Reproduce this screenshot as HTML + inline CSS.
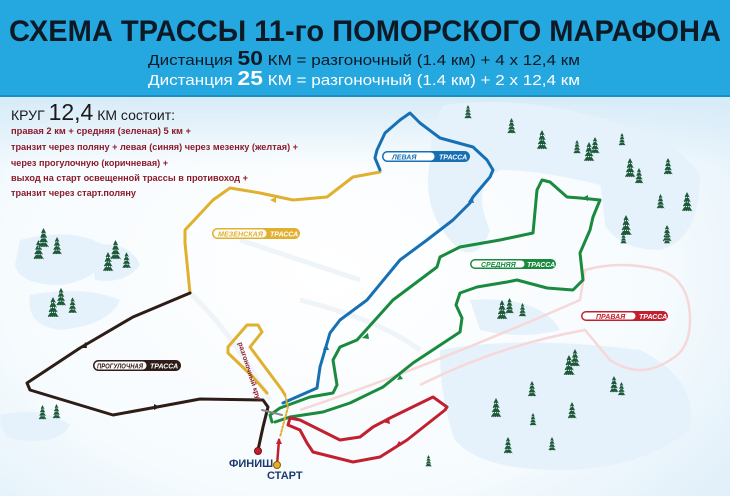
<!DOCTYPE html>
<html><head><meta charset="utf-8"><style>
html,body{margin:0;padding:0;width:730px;height:496px;overflow:hidden;background:#fff}
svg{display:block}
text{font-family:"Liberation Sans",sans-serif}
</style></head><body>
<svg width="730" height="496" viewBox="0 0 730 496" xmlns="http://www.w3.org/2000/svg">
<defs>
<radialGradient id="bg" cx="0.45" cy="0.55" r="0.75">
<stop offset="0" stop-color="#ffffff"/><stop offset="0.6" stop-color="#f6fbfe"/><stop offset="1" stop-color="#dcedf8"/>
</radialGradient>
<linearGradient id="topfade" x1="0" y1="0" x2="0" y2="1">
<stop offset="0" stop-color="#d6ebf8"/><stop offset="1" stop-color="#d6ebf8" stop-opacity="0"/>
</linearGradient>
<symbol id="t" viewBox="0 0 12 22">
<polygon points="6,0 9,6 3,6" fill="#1d5a3c"/>
<polygon points="6,3 10,11 2,11" fill="#1d5a3c"/>
<polygon points="6,8 11,16 1,16" fill="#1d5a3c"/>
<polygon points="6,12 12,21 0,21" fill="#1d5a3c"/>
<path d="M3,6h6M2,11h8M1,16h10M0,21h12" stroke="#fff" stroke-width="1.2" stroke-dasharray="1 1"/>
</symbol>
</defs>
<rect width="730" height="496" fill="url(#bg)"/>
<rect y="96" width="730" height="70" fill="url(#topfade)"/>
<g fill="#e6f2fb">
<path d="M445,105 Q520,95 600,118 Q650,130 660,175 Q650,195 600,185 Q540,170 500,170 Q470,185 490,230 Q480,260 460,250 Q420,215 430,160 Q430,120 445,105Z"/>
<path d="M590,125 Q660,120 700,175 Q700,240 660,250 Q620,250 605,225 Q600,170 590,125Z"/>
<path d="M20,240 Q80,225 110,250 Q100,280 60,285 Q20,285 15,265Z"/>
<path d="M90,245 Q130,240 140,265 Q125,285 95,280Z"/>
<path d="M30,295 Q85,285 120,300 Q110,325 60,330 Q25,325 30,295Z"/>
<path d="M470,300 Q540,295 560,330 Q520,340 480,330Z"/>
<path d="M440,350 Q520,335 640,350 Q700,380 690,430 Q640,470 560,470 Q480,470 455,440 Q440,400 440,350Z"/>
<path d="M0,415 Q40,405 70,425 Q60,445 20,440 Q0,440 0,415Z"/>
</g>
<g fill="none" stroke="#eef4f8" stroke-width="5">
<path d="M190,293 Q230,330 270,400"/><path d="M300,300 Q380,320 420,350"/><path d="M240,240 Q300,260 360,280"/>
</g>
<path d="M300,410 Q420,370 580,300 L585,270 Q620,260 660,270 Q690,280 690,320 Q690,350 670,360 Q640,380 610,360 L585,330 Q500,345 420,385" fill="none" stroke="#f6d8d8" stroke-width="2.5"/>
<rect width="730" height="95" fill="#25a8e0"/>
<rect y="95" width="730" height="2" fill="#1b8ec4"/>
<text x="365" y="41" text-anchor="middle" font-size="30" font-weight="bold" fill="#0d1a26" textLength="712" lengthAdjust="spacingAndGlyphs">СХЕМА ТРАССЫ 11-го ПОМОРСКОГО МАРАФОНА</text>
<text x="148" y="65" font-size="15" fill="#0d1a26" textLength="432" lengthAdjust="spacingAndGlyphs">Дистанция <tspan font-size="20" font-weight="bold">50</tspan> КМ = разгоночный (1.4 км) + 4 x 12,4 км</text>
<text x="148" y="85" font-size="15" fill="#fff" textLength="432" lengthAdjust="spacingAndGlyphs">Дистанция <tspan font-size="20" font-weight="bold">25</tspan> КМ = разгоночный (1.4 км) + 2 x 12,4 км</text>
<text x="11" y="120" font-size="14" fill="#1a1a1a">КРУГ <tspan font-size="23">12,4</tspan> КМ состоит:</text>
<g font-size="9.5" font-weight="bold" fill="#8b1a2a">
<text x="11" y="134" textLength="180" lengthAdjust="spacingAndGlyphs">правая 2 км + средняя (зеленая) 5 км +</text>
<text x="11" y="150" textLength="287" lengthAdjust="spacingAndGlyphs">транзит через поляну + левая (синяя) через мезенку (желтая) +</text>
<text x="11" y="166" textLength="157" lengthAdjust="spacingAndGlyphs">через прогулочную (коричневая) +</text>
<text x="11" y="181" textLength="237" lengthAdjust="spacingAndGlyphs">выход на старт освещенной трассы в противоход +</text>
<text x="11" y="196" textLength="125" lengthAdjust="spacingAndGlyphs">транзит через старт.поляну</text>
</g>
<g>
<use href="#t" x="33" y="240" width="11" height="20"/><use href="#t" x="38" y="228" width="11" height="20"/><use href="#t" x="52" y="237" width="10" height="18"/>
<use href="#t" x="102" y="252" width="12" height="20"/><use href="#t" x="110" y="240" width="11" height="20"/><use href="#t" x="122" y="252" width="9" height="17"/>
<use href="#t" x="47" y="297" width="12" height="21"/><use href="#t" x="56" y="287" width="10" height="20"/><use href="#t" x="68" y="297" width="9" height="17"/>
<use href="#t" x="38" y="405" width="9" height="15"/><use href="#t" x="52" y="404" width="9" height="15"/>
<use href="#t" x="464" y="105" width="8" height="14"/><use href="#t" x="507" y="118" width="9" height="16"/><use href="#t" x="536" y="130" width="12" height="20"/>
<use href="#t" x="573" y="140" width="8" height="14"/><use href="#t" x="583" y="142" width="12" height="20"/><use href="#t" x="590" y="137" width="10" height="17"/>
<use href="#t" x="618" y="133" width="8" height="13"/><use href="#t" x="624" y="158" width="12" height="20"/><use href="#t" x="634" y="168" width="10" height="16"/>
<use href="#t" x="663" y="158" width="10" height="17"/><use href="#t" x="656" y="194" width="9" height="15"/><use href="#t" x="681" y="192" width="12" height="20"/>
<use href="#t" x="620" y="215" width="12" height="21"/><use href="#t" x="662" y="225" width="10" height="17"/>
<use href="#t" x="618" y="232" width="11" height="12"/><use href="#t" x="662" y="232" width="10" height="12"/>
<use href="#t" x="496" y="300" width="12" height="20"/><use href="#t" x="505" y="298" width="9" height="16"/><use href="#t" x="518" y="303" width="9" height="14"/>
<use href="#t" x="563" y="355" width="12" height="21"/><use href="#t" x="570" y="349" width="10" height="18"/>
<use href="#t" x="609" y="376" width="10" height="17"/><use href="#t" x="617" y="382" width="9" height="14"/>
<use href="#t" x="527" y="381" width="10" height="16"/><use href="#t" x="490" y="398" width="12" height="20"/><use href="#t" x="529" y="413" width="8" height="13"/>
<use href="#t" x="567" y="402" width="10" height="17"/><use href="#t" x="503" y="437" width="10" height="17"/><use href="#t" x="548" y="437" width="8" height="14"/>
<use href="#t" x="425" y="455" width="7" height="12"/>
</g>
<g fill="none" stroke-linejoin="round" stroke-linecap="round">
<path d="M380,172 L353,177 L327,197 L293,200 L260,193 L230,188 L213,200 L185,230 L185,243 L190,293" stroke="#e0b02e" stroke-width="3"/>
<path d="M190,293 L133,317 L80,348 L27,383 L30,390 L113,415 L157,407 L200,399 L263,400 L268,407 L263,427 L258,450" stroke="#2e1c16" stroke-width="3"/>
<path d="M283,403 L317,388 L320,367 L330,333 L340,320 L367,300 L400,260 L427,240 L453,220 L470,203 L473,197 L490,177 L493,170 L487,160 L473,147 L440,138 L420,123 L410,113 L400,120 L385,133 L377,150 L375,158 L380,170" stroke="#1670b3" stroke-width="3"/>
<path d="M272,422 L270,415 L280,408 L310,397 L333,393 L337,385 L333,360 L340,347 L357,340 L393,300 L437,267 L440,257 L460,247 L500,240 L533,233 L537,190 L542,180 L550,182 L567,197 L580,198 L600,200 L593,217 L590,230 L580,253 L583,280 L573,290 L547,288 L517,280 L507,282 L477,287 L460,293 L456,305 L462,318 L460,332 L413,363 L383,387 L350,403 L323,412 L290,417 L275,422" stroke="#1a8a3e" stroke-width="3"/>
<path d="M288,425 L290,418 L300,420 L340,440 L360,437 L373,427 L390,418 L433,397 L447,407 L445,410 L407,440 L380,457 L353,462 L313,452 L307,443 L300,430 L288,425" stroke="#c2202f" stroke-width="3"/>
<path d="M277,465 L279,440" stroke="#c2202f" stroke-width="2.5"/>
<path d="M285,395 L282,390 L250,347 L262,332 L258,325 L247,325 L228,347 L228,353 L253,377 L267,393" stroke="#e0b02e" stroke-width="3"/>
<path d="M285,395 L288,407 L280,437" stroke="#e0b02e" stroke-width="2" stroke-dasharray="2 2"/>
<path d="M262,410 L282,415" stroke="#888" stroke-width="2"/>
</g>
<g>
<polygon points="270,200 276,197 276,203" fill="#e0b02e"/>
<polygon points="80,348 86,342 87,348" fill="#2e1c16"/>
<polygon points="160,407 154,404 154,410" fill="#2e1c16"/>
<polygon points="468,202 472,196 474,203" fill="#1670b3"/>
<polygon points="326,343 323,350 329,350" fill="#1670b3"/>
<polygon points="582,198 588,195 588,201" fill="#1a8a3e"/>
<polygon points="362,338 368,333 369,339" fill="#1a8a3e"/>
<polygon points="403,379 397,380 400,375" fill="#1a8a3e"/>
<polygon points="383,422 389,418 390,424" fill="#c2202f"/>
<polygon points="402,444 396,446 399,441" fill="#c2202f"/>
<polygon points="279,438 276,444 282,444" fill="#c2202f"/>
</g>
<circle cx="258" cy="451" r="3.5" fill="#c2202f" stroke="#7a1010"/>
<circle cx="277" cy="465" r="3.5" fill="#e0b02e" stroke="#8a6000"/>
<text x="229" y="467" font-size="11" font-weight="bold" fill="#1d3a6e">ФИНИШ</text>
<text x="267" y="479" font-size="11" font-weight="bold" fill="#1d3a6e">СТАРТ</text>
<text x="0" y="0" font-size="7" font-weight="bold" fill="#8b1a2a" transform="translate(238,343) rotate(72)">разгоночный круг</text>
<g font-size="7" font-weight="bold" font-style="italic">
<rect x="382" y="151" width="88" height="11" rx="5.5" fill="#1670b3"/><rect x="383.5" y="152.5" width="51" height="8" rx="4" fill="#fff"/>
<text x="392" y="159.5" fill="#1670b3">ЛЕВАЯ</text><text x="439" y="159.5" fill="#fff">ТРАССА</text>
<rect x="212" y="228" width="88" height="11" rx="5.5" fill="#e0b02e"/><rect x="213.5" y="229.5" width="53" height="8" rx="4" fill="#fff"/>
<text x="218" y="236.5" fill="#e0b02e" textLength="45" lengthAdjust="spacingAndGlyphs">МЕЗЕНСКАЯ</text><text x="270" y="236.5" fill="#fff">ТРАССА</text>
<rect x="93" y="360" width="88" height="11" rx="5.5" fill="#2e1c16"/><rect x="94.5" y="361.5" width="52" height="8" rx="4" fill="#fff"/>
<text x="97" y="368.5" fill="#2e1c16" textLength="46" lengthAdjust="spacingAndGlyphs">ПРОГУЛОЧНАЯ</text><text x="150" y="368.5" fill="#fff">ТРАССА</text>
<rect x="470" y="259" width="86" height="10" rx="5" fill="#1a8a3e"/><rect x="471.5" y="260.5" width="53" height="7" rx="3.5" fill="#fff"/>
<text x="481" y="267" fill="#1a8a3e">СРЕДНЯЯ</text><text x="527" y="267" fill="#fff">ТРАССА</text>
<rect x="581" y="311" width="87" height="10" rx="5" fill="#c2202f"/><rect x="582.5" y="312.5" width="53" height="7" rx="3.5" fill="#fff"/>
<text x="596" y="319" fill="#c2202f">ПРАВАЯ</text><text x="639" y="319" fill="#fff">ТРАССА</text>
</g>
</svg>
</body></html>
